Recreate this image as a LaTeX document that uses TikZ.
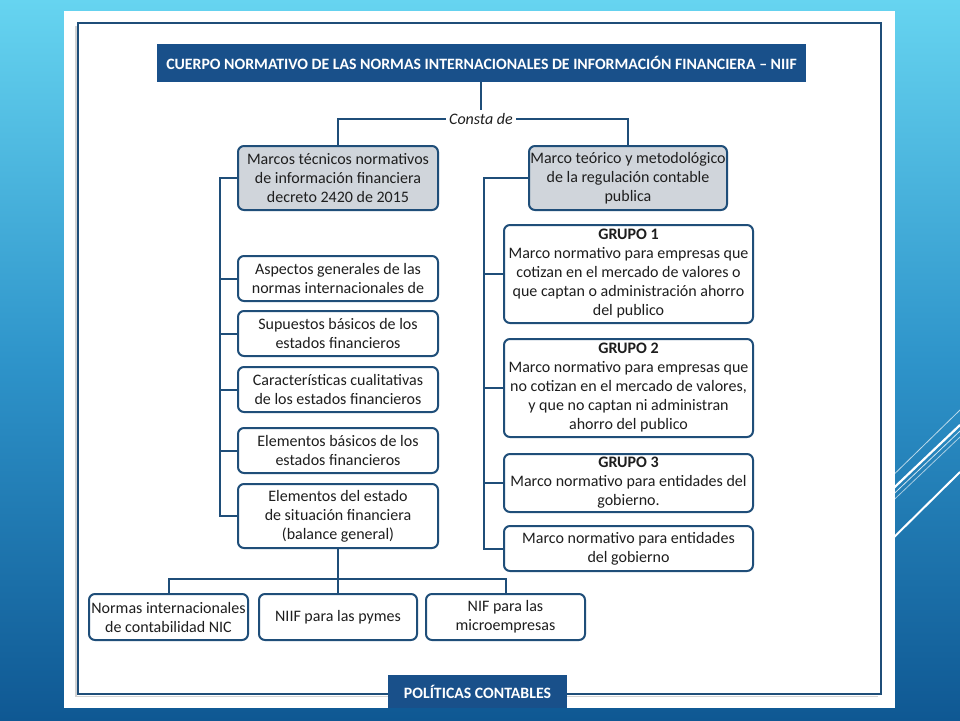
\documentclass[tikz,border=0pt]{standalone}
\usepackage{fontspec}
\setmainfont{Carlito}
\definecolor{nblue}{HTML}{1F4E79}
\definecolor{tblue}{HTML}{19508A}
\definecolor{gfill}{HTML}{D0D5DB}
\definecolor{txt}{HTML}{1E1E1E}
\definecolor{bgtop}{HTML}{66D4F0}
\definecolor{bgmid}{HTML}{2E94CA}
\definecolor{bgbot}{HTML}{0F5893}
\tikzset{
  box/.style={draw=nblue, line width=2pt, rounded corners=6pt, fill=white, align=center,
    inner sep=0pt, text=txt, font=\fontsize{16}{19}\selectfont},
  gbox/.style={box, fill=gfill},
  conn/.style={draw=nblue, line width=2pt},
  banner/.style={fill=tblue, text=white, inner sep=0pt, font=\bfseries\fontsize{15.8}{18}\selectfont},
  deco/.style={draw=white, line cap=butt}
}
\begin{document}
\begin{tikzpicture}[x=1pt,y=-1pt]
\useasboundingbox (0,0) rectangle (960,720);
% background
\shade[top color=bgtop, bottom color=bgbot, middle color=bgmid] (0,0) rectangle (960,720);
% decorative lines
\draw[deco, line width=0.8pt, opacity=0.7] (880,488) -- (960,410);
\draw[deco, line width=2.2pt] (880,501) -- (960,425);
\draw[deco, line width=0.8pt, opacity=0.8] (880,507) -- (960,431);
\draw[deco, line width=0.8pt, opacity=0.6] (880,513) -- (960,437);
\draw[deco, line width=2pt] (880,551) -- (960,472);
% white panel
\fill[white] (64,11) rectangle (895,708);
% frame
\draw[gray!35, line width=1.5pt] (76,26) -- (76,696.5) -- (878,696.5);
\draw[nblue, line width=2pt] (78,23) rectangle (881,694);

% title
\node[banner, minimum width=649pt, minimum height=38pt] (title) at (481.5,63)
  {CUERPO NORMATIVO DE LAS NORMAS INTERNACIONALES DE INFORMACIÓN FINANCIERA – NIIF};
\node[text=txt, font=\itshape\fontsize{16}{18}\selectfont, inner sep=3pt] (consta) at (481,119) {Consta de};

% top boxes
\node[gbox, minimum width=200pt, minimum height=64pt] (lt) at (338,178)
  {Marcos técnicos normativos\\de información financiera\\decreto 2420 de 2015};
\node[gbox, minimum width=198pt, minimum height=64pt] (rt) at (628,178)
  {Marco teórico y metodológico\\de la regulación contable\\publica};

% left column
\node[box, minimum width=200pt, minimum height=45pt] (A) at (338,278.5)
  {Aspectos generales de las\\normas internacionales de};
\node[box, minimum width=200pt, minimum height=45pt] (B) at (338,333.5)
  {Supuestos básicos de los\\estados financieros};
\node[box, minimum width=200pt, minimum height=45pt] (C) at (338,389.5)
  {Características cualitativas\\de los estados financieros};
\node[box, minimum width=200pt, minimum height=45pt] (D) at (338,450.5)
  {Elementos básicos de los\\estados financieros};
\node[box, minimum width=200pt, minimum height=64pt] (E) at (338,516)
  {Elementos del estado\\de situación financiera\\(balance general)};

% right column
\node[box, minimum width=249pt, minimum height=98pt] (G1) at (628.5,274)
  {\textbf{GRUPO 1}\\Marco normativo para empresas que\\cotizan en el mercado de valores o\\que captan o administración ahorro\\del publico};
\node[box, minimum width=249pt, minimum height=98pt] (G2) at (628.5,388)
  {\textbf{GRUPO 2}\\Marco normativo para empresas que\\no cotizan en el mercado de valores,\\y que no captan ni administran\\ahorro del publico};
\node[box, minimum width=249pt, minimum height=58pt] (G3) at (628.5,483)
  {\textbf{GRUPO 3}\\Marco normativo para entidades del\\gobierno.};
\node[box, minimum width=249pt, minimum height=45pt] (M) at (628.5,548.5)
  {Marco normativo para entidades\\del gobierno};

% bottom row
\node[box, minimum width=159pt, minimum height=46pt] (N1) at (168.5,617)
  {Normas internacionales\\de contabilidad NIC};
\node[box, minimum width=158pt, minimum height=46pt] (N2) at (338,617)
  {NIIF para las pymes};
\node[box, minimum width=159pt, minimum height=46pt] (N3) at (505.5,617)
  {NIF para las\\microempresas};

% politicas
\node[banner, minimum width=179pt, minimum height=33pt] (pol) at (477.5,691.5)
  {POLÍTICAS CONTABLES};

% connectors
\coordinate (lsp) at (220,0);
\coordinate (rsp) at (484,0);
\coordinate (bj) at (338,579);
\draw[conn] (title.south -| consta.north) -- (consta.north);
\draw[conn] (consta.west) -| (lt.north);
\draw[conn] (consta.east) -| (rt.north);
\draw[conn] (lt.west) -- (lt.west -| lsp) |- (E.west);
\foreach \n in {A,B,C,D} \draw[conn] (\n.west) -- (\n.west -| lsp);
\draw[conn] (rt.west) -- (rt.west -| rsp) |- (M.west);
\foreach \n in {G1,G2,G3} \draw[conn] (\n.west) -- (\n.west -| rsp);
\draw[conn] (E.south) -- (bj);
\draw[conn] (N1.north) -- (N1.north |- bj) -- (N3.north |- bj) -- (N3.north);
\draw[conn] (N2.north) -- (N2.north |- bj);
\end{tikzpicture}
\end{document}
